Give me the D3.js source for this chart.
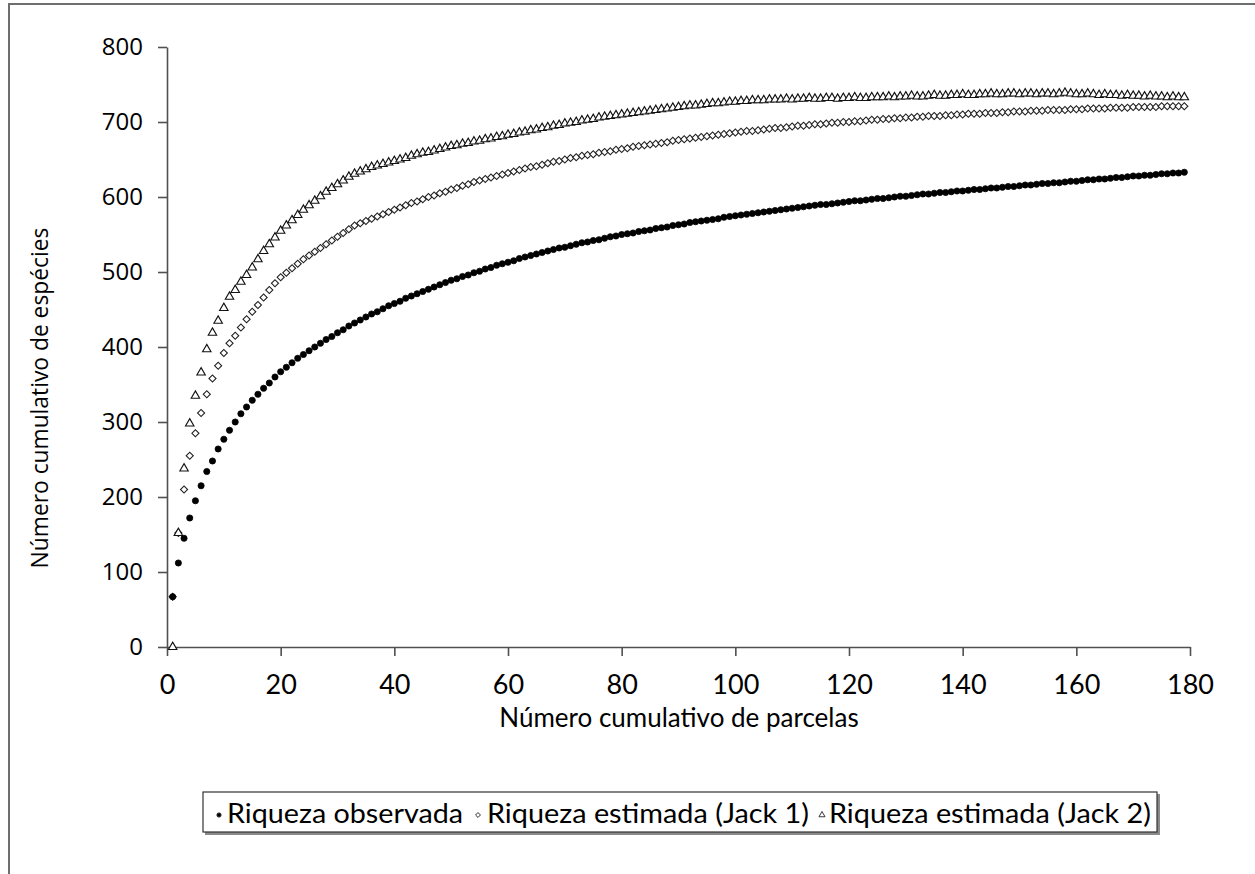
<!DOCTYPE html>
<html>
<head>
<meta charset="utf-8">
<script src="https://cdn.jsdelivr.net/npm/d3@7"></script>
<style>
  html, body { margin: 0; padding: 0; background: #fff; }
  svg { display: block; }
</style>
</head>
<body>
<div id="chart"></div>
<script>
// ---- data ----
const parcelas = d3.range(1, 180);
const riquezaObservada = [
  67,112,145,172,195,215,234,248,264,277,
  289,300,311,320,329,337,345,352,360,367,
  373,379,385,390,395,400,405,410,414,419,
  423,428,432,436,440,444,447,451,455,458,
  461,465,468,471,474,477,480,483,486,489,
  491,494,496,499,501,504,506,509,511,513,
  515,518,520,522,524,526,528,530,532,533,
  535,537,539,540,542,543,545,547,548,550,
  551,552,554,555,556,558,559,560,562,563,
  564,566,567,568,569,570,571,573,574,575,
  576,577,578,579,580,581,582,583,584,585,
  586,587,588,589,590,590,591,592,593,594,
  595,595,596,597,598,598,599,600,601,601,
  602,603,604,604,605,606,606,607,608,608,
  609,610,610,611,612,612,613,614,614,615,
  616,616,617,618,618,619,619,620,621,621,
  622,623,623,624,624,625,626,626,627,628,
  628,629,629,630,631,631,632,632,633
];
const riquezaJack1 = [
  67,152,210,255,285,312,337,358,375,392,
  405,415,426,437,447,456,466,476,485,493,
  499,505,511,517,522,527,532,537,542,547,
  552,557,562,565,568,571,574,577,580,583,
  586,589,592,594,597,600,602,605,607,610,
  612,615,617,620,622,624,626,628,630,632,
  634,636,638,640,641,643,645,647,648,650,
  652,653,655,656,657,659,660,661,663,664,
  665,667,668,669,670,671,672,673,675,676,
  677,678,679,680,681,682,683,684,685,686,
  687,688,688,689,690,691,692,692,693,694,
  695,695,696,697,697,698,699,699,700,700,
  701,701,702,703,703,704,704,705,705,706,
  706,707,707,708,708,708,709,709,710,710,
  711,711,711,712,712,712,713,713,714,714,
  714,715,715,715,716,716,716,716,717,717,
  717,718,718,718,718,719,719,719,719,720,
  720,720,720,720,721,721,721,721,721
];
const riquezaJack2 = [
  0,152,238,298,335,366,397,419,435,452,
  467,476,487,496,506,517,528,537,546,555,
  562,569,576,583,589,595,601,607,612,617,
  622,627,631,634,637,640,642,644,646,648,
  650,652,655,657,659,660,662,664,666,668,
  669,671,672,674,675,677,678,680,681,683,
  684,686,687,689,690,692,693,695,696,698,
  699,700,702,703,704,706,707,708,709,710,
  711,712,713,714,715,716,717,718,719,720,
  721,722,722,723,724,725,725,726,727,727,
  728,728,729,729,729,730,730,730,731,730,
  731,731,732,731,731,732,732,731,732,732,
  733,732,732,733,733,733,734,733,734,734,
  735,734,734,735,736,735,735,736,736,737,
  736,736,737,737,738,737,737,738,738,737,
  738,738,737,738,738,737,738,739,738,737,
  737,738,737,736,737,736,736,735,736,735,
  735,734,735,734,734,733,734,733,733
];
const xTicks = [0,20,40,60,80,100,120,140,160,180];
const yTicks = [0,100,200,300,400,500,600,700,800];
const xTitle = "Número cumulativo de parcelas";
const yTitle = "Número cumulativo de espécies";
const legendLabels = ["Riqueza observada", "Riqueza estimada (Jack 1)", "Riqueza estimada (Jack 2)"];

// ---- chart ----
const W = 1255, H = 874;
const svg = d3.select("#chart").append("svg").attr("width", W).attr("height", H);

// outer frame (top and left edges visible)
svg.append("path").attr("d", `M9,${H} L9,4 L${W},4`)
  .attr("fill", "none").attr("stroke", "#6e6e6e").attr("stroke-width", 2);

const x = d3.scaleLinear().domain([0, 180]).range([167, 1190]);
const y = d3.scaleLinear().domain([0, 800]).range([647, 47]);

const axisColor = "#505050";

const gy = svg.append("g").attr("transform", `translate(${x(0)},0)`)
  .call(d3.axisLeft(y).tickValues(yTicks).tickSize(9).tickPadding(15).tickSizeOuter(0));
gy.select(".domain").attr("stroke", axisColor).attr("stroke-width", 1.6);
gy.selectAll(".tick line").attr("stroke", axisColor).attr("stroke-width", 1.6);
gy.selectAll(".tick text").attr("font-family", "'Open Sans', sans-serif")
  .attr("font-size", 24).attr("fill", "#000");

const gx = svg.append("g").attr("transform", `translate(0,${y(0)})`)
  .call(d3.axisBottom(x).tickValues(xTicks).tickSize(9).tickPadding(19).tickSizeOuter(0));
gx.select(".domain").attr("stroke", axisColor).attr("stroke-width", 1.6);
gx.selectAll(".tick line").attr("stroke", axisColor).attr("stroke-width", 1.6);
gx.selectAll(".tick text").attr("font-family", "Lato, sans-serif")
  .attr("font-size", 27).attr("fill", "#000");

// titles
svg.append("text").attr("x", 679).attr("y", 727).attr("text-anchor", "middle")
  .attr("font-family", "Lato, sans-serif").attr("font-size", 26).attr("fill", "#000")
  .text(xTitle);
svg.append("text").attr("transform", `translate(48,${398}) rotate(-90)`).attr("text-anchor", "middle")
  .attr("font-family", "'Open Sans', sans-serif").attr("font-size", 22.8).attr("fill", "#000")
  .text(yTitle);

// markers (observed drawn last, on top)
const plot = svg.append("g");
const circ = d3.symbol(d3.symbolCircle, 30);
const diam = d3.symbol(d3.symbolSquare, 25);
const tri = d3.symbol(d3.symbolTriangle, 31);

plot.selectAll("path.j1").data(parcelas).join("path").attr("class", "j1")
  .attr("transform", (d, i) => `translate(${x(d)},${y(riquezaJack1[i])}) rotate(45)`)
  .attr("d", diam).attr("fill", "#fff").attr("stroke", "#222").attr("stroke-width", 1.1);

plot.selectAll("path.j2").data(parcelas).join("path").attr("class", "j2")
  .attr("transform", (d, i) => `translate(${x(d)},${y(riquezaJack2[i])})`)
  .attr("d", tri).attr("fill", "#fff").attr("stroke", "#111").attr("stroke-width", 1.1);

plot.selectAll("path.obs").data(parcelas).join("path").attr("class", "obs")
  .attr("transform", (d, i) => `translate(${x(d)},${y(riquezaObservada[i])})`)
  .attr("d", circ).attr("fill", "#000").attr("stroke", "#000").attr("stroke-width", 0.8);

// legend
const lg = svg.append("g");
lg.append("rect").attr("x", 205).attr("y", 794).attr("width", 955).attr("height", 41)
  .attr("fill", "#8a8a8a");
lg.append("rect").attr("x", 203).attr("y", 792).attr("width", 954).attr("height", 40)
  .attr("fill", "#fff").attr("stroke", "#333").attr("stroke-width", 1.2);

const legY = 813;
const legItems = [
  {sym: d3.symbol(d3.symbolCircle, 14), mx: 219, tx: 227, len: 236, fill: "#000", rot: 0},
  {sym: d3.symbol(d3.symbolSquare, 12), mx: 478, tx: 487, len: 322, fill: "#fff", rot: 45},
  {sym: d3.symbol(d3.symbolTriangle, 16), mx: 822, tx: 829, len: 322, fill: "#fff", rot: 0}
];
legItems.forEach((it, i) => {
  lg.append("path").attr("d", it.sym)
    .attr("transform", `translate(${it.mx},${legY + 2}) rotate(${it.rot})`)
    .attr("fill", it.fill).attr("stroke", "#222").attr("stroke-width", 0.9);
  lg.append("text").attr("x", it.tx).attr("y", legY + 10)
    .attr("font-family", "Lato, sans-serif").attr("font-size", 27).attr("fill", "#000")
    .attr("textLength", it.len).attr("lengthAdjust", "spacingAndGlyphs")
    .text(legendLabels[i]);
});
</script>
</body>
</html>
